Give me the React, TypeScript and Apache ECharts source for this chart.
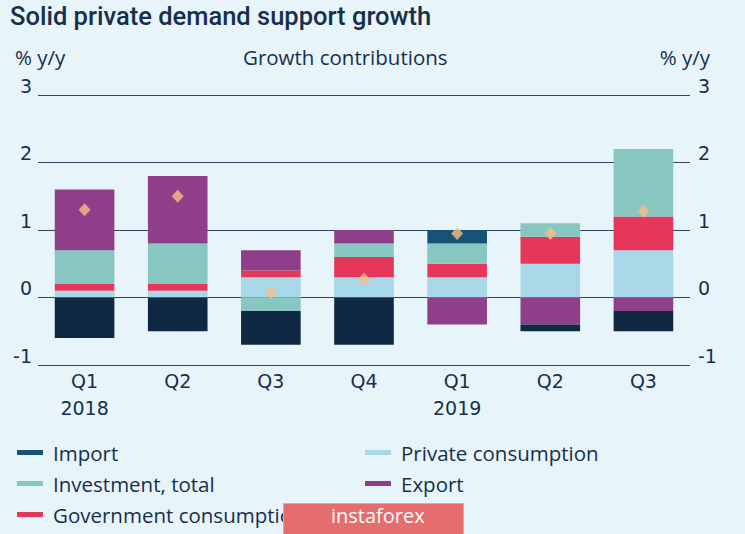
import React, { useEffect, useRef } from "react";
import * as echarts from "echarts";

const categories = ["Q1\n2018", "Q2", "Q3", "Q4", "Q1\n2019", "Q2", "Q3"];
const privateConsumption = [0.1, 0.1, 0.3, 0.3, 0.3, 0.5, 0.7];
const governmentConsumption = [0.1, 0.1, 0.1, 0.3, 0.2, 0.4, 0.5];
const investment = [0.5, 0.6, -0.2, 0.2, 0.3, 0.2, 1.0];
const exportValues = [0.9, 1.0, 0.3, 0.2, -0.4, -0.4, -0.2];
const importValues = [-0.6, -0.5, -0.5, -0.7, 0.2, -0.1, -0.3];
const gdpGrowth = [1.3, 1.5, 0.07, 0.27, 0.95, 0.95, 1.28];
const yTicks = [-1, 0, 1, 2, 3];

const TEXT = "#16304b";
const UI_FONT = "'Open Sans', 'Noto Sans', sans-serif";
const AXIS_FONT = "'DejaVu Sans', sans-serif";

export default function App() {
  const ref = useRef<HTMLDivElement>(null);

  useEffect(() => {
    if (!ref.current) return;
    const chart = echarts.init(ref.current, undefined, { renderer: "svg" });
    const barCommon = {
      type: "bar",
      stack: "total",
      barWidth: "64%",
      stackStrategy: "samesign",
    };
    const legendCommon = {
      orient: "vertical",
      top: 441,
      height: 93,
      padding: 0,
      itemWidth: 26,
      itemHeight: 5,
      itemGap: 8,
      icon: "rect",
      selectedMode: false,
      textStyle: { color: TEXT, fontSize: 20.5, fontFamily: UI_FONT, lineHeight: 23, padding: [0, 0, 0, 5] },
    };
    const option: any = {
      animation: false,
      backgroundColor: "#e7f4f9",
      textStyle: { fontFamily: UI_FONT },
      grid: { left: 38, right: 55, top: 95, height: 270 },
      xAxis: {
        type: "category",
        data: categories,
        axisLine: { show: false },
        axisTick: { show: false },
        axisLabel: {
          color: TEXT,
          fontFamily: AXIS_FONT,
          fontSize: 19,
          lineHeight: 27,
          margin: 2,
        },
      },
      yAxis: [
        {
          type: "value",
          min: yTicks[0],
          max: yTicks[yTicks.length - 1],
          interval: 1,
          position: "left",
          axisLine: { show: false },
          axisTick: { show: false },
          axisLabel: {
            color: TEXT,
            fontFamily: AXIS_FONT,
            fontSize: 19,
            verticalAlign: "bottom",
            margin: 6,
          },
          splitLine: { lineStyle: { color: "#2e455c", width: 1 } },
        },
        {
          type: "value",
          min: yTicks[0],
          max: yTicks[yTicks.length - 1],
          interval: 1,
          position: "right",
          axisLine: { show: false },
          axisTick: { show: false },
          axisLabel: {
            color: TEXT,
            fontFamily: AXIS_FONT,
            fontSize: 19,
            verticalAlign: "bottom",
            margin: 8,
          },
          splitLine: { show: false },
        },
      ],
      legend: [
        { ...legendCommon, left: 17, data: ["Import", "Investment, total", "Government consumption"] },
        { ...legendCommon, left: 365, data: ["Private consumption", "Export"] },
      ],
      series: [
        { ...barCommon, name: "Private consumption", data: privateConsumption, itemStyle: { color: "#a8d7e8" } },
        { ...barCommon, name: "Government consumption", data: governmentConsumption, itemStyle: { color: "#e4375a" } },
        { ...barCommon, name: "Investment, total", data: investment, itemStyle: { color: "#87c6c1" } },
        { ...barCommon, name: "Export", data: exportValues, itemStyle: { color: "#8f3f8a" } },
        {
          ...barCommon,
          name: "Import",
          data: importValues.map((v) => ({
            value: v,
            itemStyle: { color: v < 0 ? "#0f2942" : "#155273" },
          })),
          itemStyle: { color: "#155273" },
        },
        {
          type: "scatter",
          name: "GDP",
          data: gdpGrowth,
          symbol: "diamond",
          symbolSize: [12, 13],
          itemStyle: { color: "#f8bd88" },
          z: 5,
        },
      ],
      graphic: [
        {
          type: "text",
          left: 10,
          top: 3,
          style: { text: "Solid private demand support growth", fill: TEXT, font: `500 25.5px Roboto, ${UI_FONT}` },
        },
        {
          type: "text",
          left: 15,
          top: 46,
          style: { text: "% y/y", fill: TEXT, font: `20.5px ${UI_FONT}` },
        },
        {
          type: "text",
          left: 243,
          top: 46,
          style: { text: "Growth contributions", fill: TEXT, font: `20.5px ${UI_FONT}` },
        },
        {
          type: "text",
          right: 35,
          top: 46,
          style: { text: "% y/y", fill: TEXT, font: `20.5px ${UI_FONT}` },
        },
        {
          type: "rect",
          left: 283,
          top: 503,
          shape: { width: 180, height: 31 },
          style: { fill: "#e56d6f", stroke: "#f0a0a0", lineWidth: 1 },
          z: 100,
        },
        {
          type: "text",
          left: 331,
          top: 505,
          style: { text: "instaforex", fill: "#ffffff", font: `20px ${UI_FONT}` },
          z: 101,
        },
      ],
    };
    chart.setOption(option);
    return () => chart.dispose();
  }, []);

  return (
    <div
      ref={ref}
      style={{ position: "fixed", left: 0, top: 0, width: 745, height: 534 }}
    />
  );
}
